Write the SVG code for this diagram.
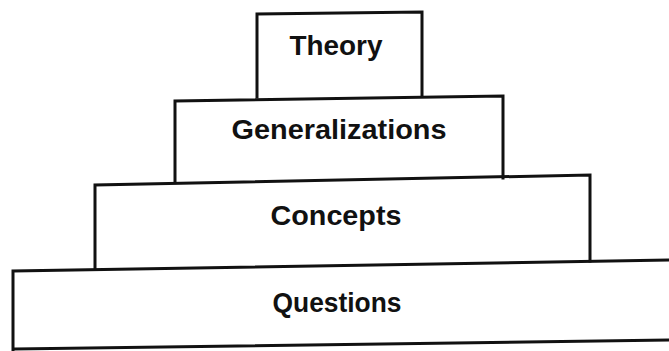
<svg xmlns="http://www.w3.org/2000/svg" width="669" height="351" viewBox="0 0 669 351">
<style>
.box{fill:none;stroke:#111;stroke-width:3;stroke-linejoin:miter;stroke-linecap:square}
.lbl{font-family:"Liberation Sans","DejaVu Sans",sans-serif;font-weight:bold;font-size:27px;fill:#111;text-anchor:middle}
</style>
<rect width="669" height="351" fill="#fff"/>
<g id="theory">
<path class="box" d="M257,97 L257,14 L422,12 L422,95"/>
<text class="lbl" x="336" y="55" textLength="93" lengthAdjust="spacingAndGlyphs">Theory</text>
</g>
<g id="generalizations">
<path class="box" d="M175,182 L175,101 L503,96 L503,178"/>
<text class="lbl" x="339" y="139" textLength="215" lengthAdjust="spacingAndGlyphs">Generalizations</text>
</g>
<g id="concepts">
<path class="box" d="M95,268 L95,185 L590,175 L590,261"/>
<text class="lbl" x="336" y="225" textLength="131" lengthAdjust="spacingAndGlyphs">Concepts</text>
</g>
<g id="questions">
<path class="box" d="M669,260 L13,271 L13,350"/>
<path class="box" d="M15,349 L669,340"/>
<text class="lbl" x="337" y="312" textLength="129" lengthAdjust="spacingAndGlyphs">Questions</text>
</g>
<g id="connectors"/>
</svg>
